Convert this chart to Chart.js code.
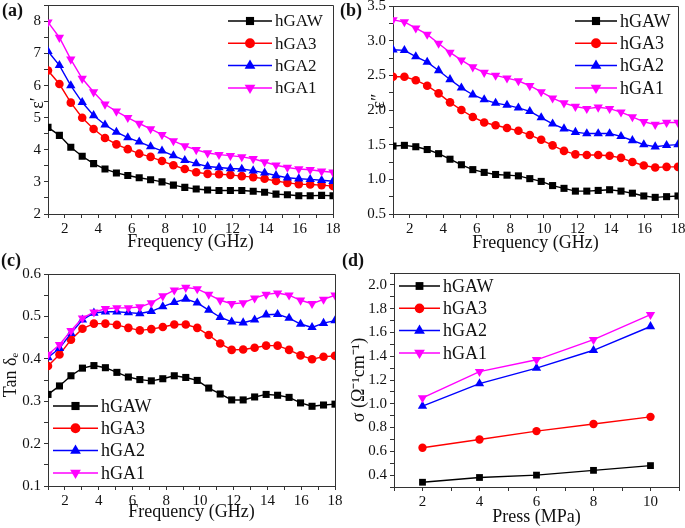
<!DOCTYPE html>
<html>
<head>
<meta charset="utf-8">
<script src="https://cdn.jsdelivr.net/npm/chart.js@4.4.1/dist/chart.umd.min.js"></script>
<style>
    html, body { margin: 0; padding: 0; background: #fff; }
    #wrap { position: relative; width: 685px; height: 528px; overflow: hidden; }
    canvas { position: absolute; }
    .tag { position: absolute; font: bold 18px "Liberation Serif", serif; line-height: 18px; color: #111; }
</style>
</head>
<body>
<div id="wrap">
    <canvas id="chartA" width="345" height="260" style="left:0;top:0"></canvas>
    <canvas id="chartB" width="345" height="260" style="left:340px;top:0"></canvas>
    <canvas id="chartC" width="345" height="268" style="left:0;top:260px"></canvas>
    <canvas id="chartD" width="345" height="268" style="left:340px;top:260px"></canvas>
    <div class="tag" style="left:2px;top:1px">(a)</div>
    <div class="tag" style="left:340px;top:1px">(b)</div>
    <div class="tag" style="left:1px;top:251px">(c)</div>
    <div class="tag" style="left:342px;top:251px">(d)</div>
</div>
<script>
// sample names and frequency points (GHz)
var names = ['hGAW', 'hGA3', 'hGA2', 'hGA1'];
var freq = [1, 1.68, 2.36, 3.04, 3.72, 4.4, 5.08, 5.76, 6.44, 7.12, 7.8, 8.48, 9.16,
    9.84, 10.52, 11.2, 11.88, 12.56, 13.24, 13.92, 14.6, 15.28, 15.96, 16.64, 17.32, 18];
var press = [2, 4, 6, 8, 10];

// (a) real permittivity
var realW = [4.7, 4.45, 4.08, 3.8, 3.57, 3.4, 3.28, 3.2, 3.13, 3.07, 3.0, 2.9, 2.83,
    2.78, 2.75, 2.73, 2.73, 2.73, 2.71, 2.68, 2.62, 2.6, 2.57, 2.57, 2.58, 2.57];
var real3 = [6.47, 6.05, 5.47, 5.0, 4.65, 4.37, 4.17, 4.02, 3.88, 3.78, 3.65, 3.52, 3.4,
    3.3, 3.25, 3.24, 3.22, 3.18, 3.15, 3.1, 3.03, 2.97, 2.93, 2.92, 2.9, 2.87];
var real2 = [7.07, 6.63, 6.0, 5.48, 5.07, 4.78, 4.55, 4.38, 4.25, 4.1, 3.97, 3.82, 3.67,
    3.57, 3.48, 3.45, 3.42, 3.4, 3.35, 3.28, 3.2, 3.13, 3.1, 3.08, 3.05, 3.02];
var real1 = [7.98, 7.5, 6.82, 6.22, 5.8, 5.42, 5.2, 5.0, 4.82, 4.65, 4.47, 4.28, 4.12,
    4.0, 3.9, 3.85, 3.82, 3.78, 3.72, 3.62, 3.52, 3.45, 3.4, 3.38, 3.33, 3.3];

// (b) imaginary permittivity
var imagW = [1.48, 1.49, 1.47, 1.43, 1.37, 1.29, 1.21, 1.14, 1.10, 1.07, 1.06, 1.05, 1.01,
    0.97, 0.91, 0.87, 0.83, 0.83, 0.84, 0.85, 0.83, 0.80, 0.76, 0.74, 0.75, 0.76];
var imag3 = [2.48, 2.48, 2.43, 2.35, 2.24, 2.11, 2.0, 1.90, 1.82, 1.78, 1.74, 1.70, 1.64,
    1.57, 1.49, 1.41, 1.36, 1.35, 1.35, 1.34, 1.31, 1.25, 1.20, 1.17, 1.18, 1.18];
var imag2 = [2.87, 2.86, 2.77, 2.69, 2.57, 2.44, 2.32, 2.22, 2.15, 2.10, 2.07, 2.03, 1.98,
    1.89, 1.80, 1.73, 1.68, 1.66, 1.66, 1.66, 1.62, 1.56, 1.50, 1.47, 1.49, 1.50];
var imag1 = [3.30, 3.27, 3.18, 3.09, 2.96, 2.83, 2.72, 2.62, 2.54, 2.50, 2.46, 2.42, 2.35,
    2.26, 2.17, 2.10, 2.05, 2.02, 2.04, 2.02, 1.97, 1.90, 1.83, 1.79, 1.82, 1.82];

// (c) dielectric loss tangent
var tanW = [0.316, 0.336, 0.36, 0.378, 0.384, 0.379, 0.368, 0.357, 0.351, 0.348, 0.353, 0.360, 0.356,
    0.349, 0.331, 0.317, 0.303, 0.303, 0.310, 0.316, 0.314, 0.309, 0.296, 0.288, 0.291, 0.293];
var tan3 = [0.383, 0.41, 0.445, 0.471, 0.483, 0.483, 0.480, 0.473, 0.467, 0.470, 0.475, 0.481, 0.481,
    0.473, 0.456, 0.436, 0.421, 0.422, 0.426, 0.431, 0.431, 0.421, 0.408, 0.399, 0.405, 0.407];
var tan2 = [0.403, 0.425, 0.46, 0.492, 0.508, 0.511, 0.511, 0.509, 0.507, 0.512, 0.523, 0.533, 0.541,
    0.532, 0.515, 0.498, 0.487, 0.485, 0.492, 0.504, 0.505, 0.496, 0.482, 0.474, 0.484, 0.490];
var tan1 = [0.41, 0.433, 0.466, 0.496, 0.51, 0.518, 0.52, 0.52, 0.522, 0.532, 0.548, 0.562, 0.568,
    0.565, 0.552, 0.538, 0.530, 0.532, 0.543, 0.552, 0.555, 0.550, 0.538, 0.530, 0.540, 0.550];

// (d) conductivity vs pressure
var condW = [0.34, 0.38, 0.40, 0.44, 0.48];
var cond3 = [0.63, 0.70, 0.77, 0.83, 0.89];
var cond2 = [0.98, 1.17, 1.30, 1.45, 1.65];
var cond1 = [1.05, 1.27, 1.37, 1.54, 1.75];

var colors = ['#000000', '#ff0000', '#0000ff', '#ff00ff'];
var shapes = ['rect', 'circle', 'triangle', 'triangle'];
var turns = [0, 0, 0, 180];
var axisColor = '#333';
var serif = '"Liberation Serif", "Times New Roman", serif';

function makeSets(xs, groups, sizes) {
    return groups.map(function (ys, i) {
        return {
            label: names[i],
            data: ys.map(function (y, j) { return {x: xs[j], y: y}; }),
            borderColor: colors[i],
            backgroundColor: colors[i],
            borderWidth: 1.4,
            pointStyle: shapes[i],
            pointRotation: turns[i],
            pointRadius: sizes[i],
            pointBorderWidth: 0,
            pointHoverRadius: sizes[i],
            order: 3 - i
        };
    });
}

function marker(ctx, style, rot, r, x, y) {
    ctx.beginPath();
    if (style === 'rect') {
        var s = r * Math.SQRT1_2;
        ctx.rect(x - s, y - s, 2 * s, 2 * s);
    } else if (style === 'circle') {
        ctx.arc(x, y, r, 0, Math.PI * 2);
    } else {
        var a = rot * Math.PI / 180;
        for (var k = 0; k < 3; k++) {
            var t = a + k * 2 * Math.PI / 3;
            var px = x + Math.sin(t) * r, py = y - Math.cos(t) * r;
            if (k === 0) ctx.moveTo(px, py); else ctx.lineTo(px, py);
        }
        ctx.closePath();
    }
    ctx.fill();
}

var legendPlugin = {
    id: 'boxLegend',
    afterDraw: function (chart, args, opts) {
        var ctx = chart.ctx;
        ctx.save();
        chart.data.datasets.forEach(function (ds, i) {
            var y = opts.y + i * opts.row;
            ctx.strokeStyle = ds.borderColor;
            ctx.lineWidth = 1.5;
            ctx.beginPath();
            ctx.moveTo(opts.x, y);
            ctx.lineTo(opts.x + opts.len, y);
            ctx.stroke();
            ctx.fillStyle = ds.backgroundColor;
            marker(ctx, ds.pointStyle, ds.pointRotation, ds.pointRadius * 1.15, opts.x + opts.len / 2, y);
            ctx.fillStyle = '#111';
            ctx.font = opts.size + 'px ' + serif;
            ctx.textBaseline = 'middle';
            ctx.fillText(ds.label, opts.x + opts.len + 3, y + 1);
        });
        ctx.restore();
    }
};

// top and right sides of the frame, plus the rotated y title
var framePlugin = {
    id: 'frame',
    afterDraw: function (chart, args, opts) {
        var a = chart.chartArea, ctx = chart.ctx;
        var top = Math.floor(a.top) + 0.5, right = Math.floor(a.right) + 0.5;
        ctx.save();
        ctx.strokeStyle = axisColor;
        ctx.lineWidth = 1;
        ctx.beginPath();
        ctx.moveTo(a.left, top);
        ctx.lineTo(right, top);
        ctx.lineTo(right, a.bottom);
        ctx.stroke();

        ctx.translate(opts.x, opts.y);
        ctx.rotate(-Math.PI / 2);
        ctx.fillStyle = '#111';
        ctx.font = '18px ' + serif;
        ctx.textAlign = 'center';
        ctx.textBaseline = 'middle';
        ctx.fillText(opts.text, 0, 0);
        ctx.restore();
    }
};

function xAxis(min, max, text, height, titlePad) {
    return {
        type: 'linear', min: min, max: max,
        border: {display: true, color: axisColor, width: 1},
        grid: {drawOnChartArea: false, drawTicks: true, tickLength: 4, color: axisColor},
        ticks: {
            stepSize: 1, autoSkip: false, maxRotation: 0, padding: 2, color: '#111',
            font: {family: serif, size: 15},
            callback: function (v) { return v % 2 === 0 ? String(v) : ''; }
        },
        title: {display: true, text: text, color: '#111', font: {family: serif, size: 18},
            padding: {top: 0, bottom: titlePad}},
        afterFit: function (s) { s.height = height; s.paddingLeft = 0; s.paddingRight = 0; }
    };
}

function yAxis(min, max, step, every, width) {
    return {
        type: 'linear', min: min, max: max,
        border: {display: true, color: axisColor, width: 1},
        grid: {drawOnChartArea: false, drawTicks: true, tickLength: 4, color: axisColor},
        ticks: {
            stepSize: step, autoSkip: false, padding: 3, color: '#111',
            font: {family: serif, size: 15},
            callback: function (v) {
                var q = v / every;
                if (Math.abs(q - Math.round(q)) > 1e-6) return '';
                return every < 1 ? v.toFixed(1) : String(Math.round(v));
            }
        },
        afterFit: function (s) { s.width = width; s.paddingTop = 0; s.paddingBottom = 0; }
    };
}

function drawPanel(id, sets, pad, scales, legend, yTitle) {
    new Chart(document.getElementById(id), {
        type: 'line',
        data: {datasets: sets},
        options: {
            responsive: false,
            animation: false,
            layout: {padding: pad},
            plugins: {
                legend: {display: false},
                tooltip: {enabled: false},
                boxLegend: legend,
                frame: yTitle
            },
            scales: scales
        },
        plugins: [framePlugin, legendPlugin]
    });
}

var bigPts = [5, 4.3, 5.4, 5.4];

drawPanel('chartA',
    makeSets(freq, [realW, real3, real2, real1], bigPts),
    {left: 27, top: 4, right: 12, bottom: 0},
    {x: xAxis(1, 18, 'Frequency (GHz)', 46, 7), y: yAxis(2, 8.5, 0.5, 1, 21)},
    {x: 228, y: 21, row: 22.3, len: 44, size: 17},
    {text: 'ε′', x: 38, y: 103});

drawPanel('chartB',
    makeSets(freq, [imagW, imag3, imag2, imag1], bigPts),
    {left: 27, top: 6, right: 7, bottom: 0},
    {x: xAxis(1, 18, 'Frequency (GHz)', 46, 6), y: yAxis(0.5, 3.5, 0.25, 0.5, 26)},
    {x: 235, y: 21, row: 22.3, len: 42, size: 18},
    {text: 'ε″', x: 39, y: 101});

drawPanel('chartC',
    makeSets(freq, [tanW, tan3, tan2, tan1], bigPts),
    {left: 11, top: 14, right: 10, bottom: 0},
    {x: xAxis(1, 18, 'Frequency (GHz)', 42, 5), y: yAxis(0.1, 0.6, 0.05, 0.1, 37)},
    {x: 53, y: 146, row: 22.3, len: 45, size: 18},
    {text: 'Tan δₑ', x: 11, y: 115});

drawPanel('chartD',
    makeSets(press, [condW, cond3, cond2, cond1], [4.8, 4.2, 5.4, 5.4]),
    {left: 8, top: 13, right: 6, bottom: 0},
    {x: xAxis(1, 11, 'Press (MPa)', 41, 0), y: yAxis(0.3, 2.1, 0.1, 0.2, 46)},
    {x: 59, y: 26, row: 22.3, len: 41, size: 18},
    {text: 'σ (Ω⁻¹cm⁻¹)', x: 19, y: 120});
</script>
</body>
</html>
